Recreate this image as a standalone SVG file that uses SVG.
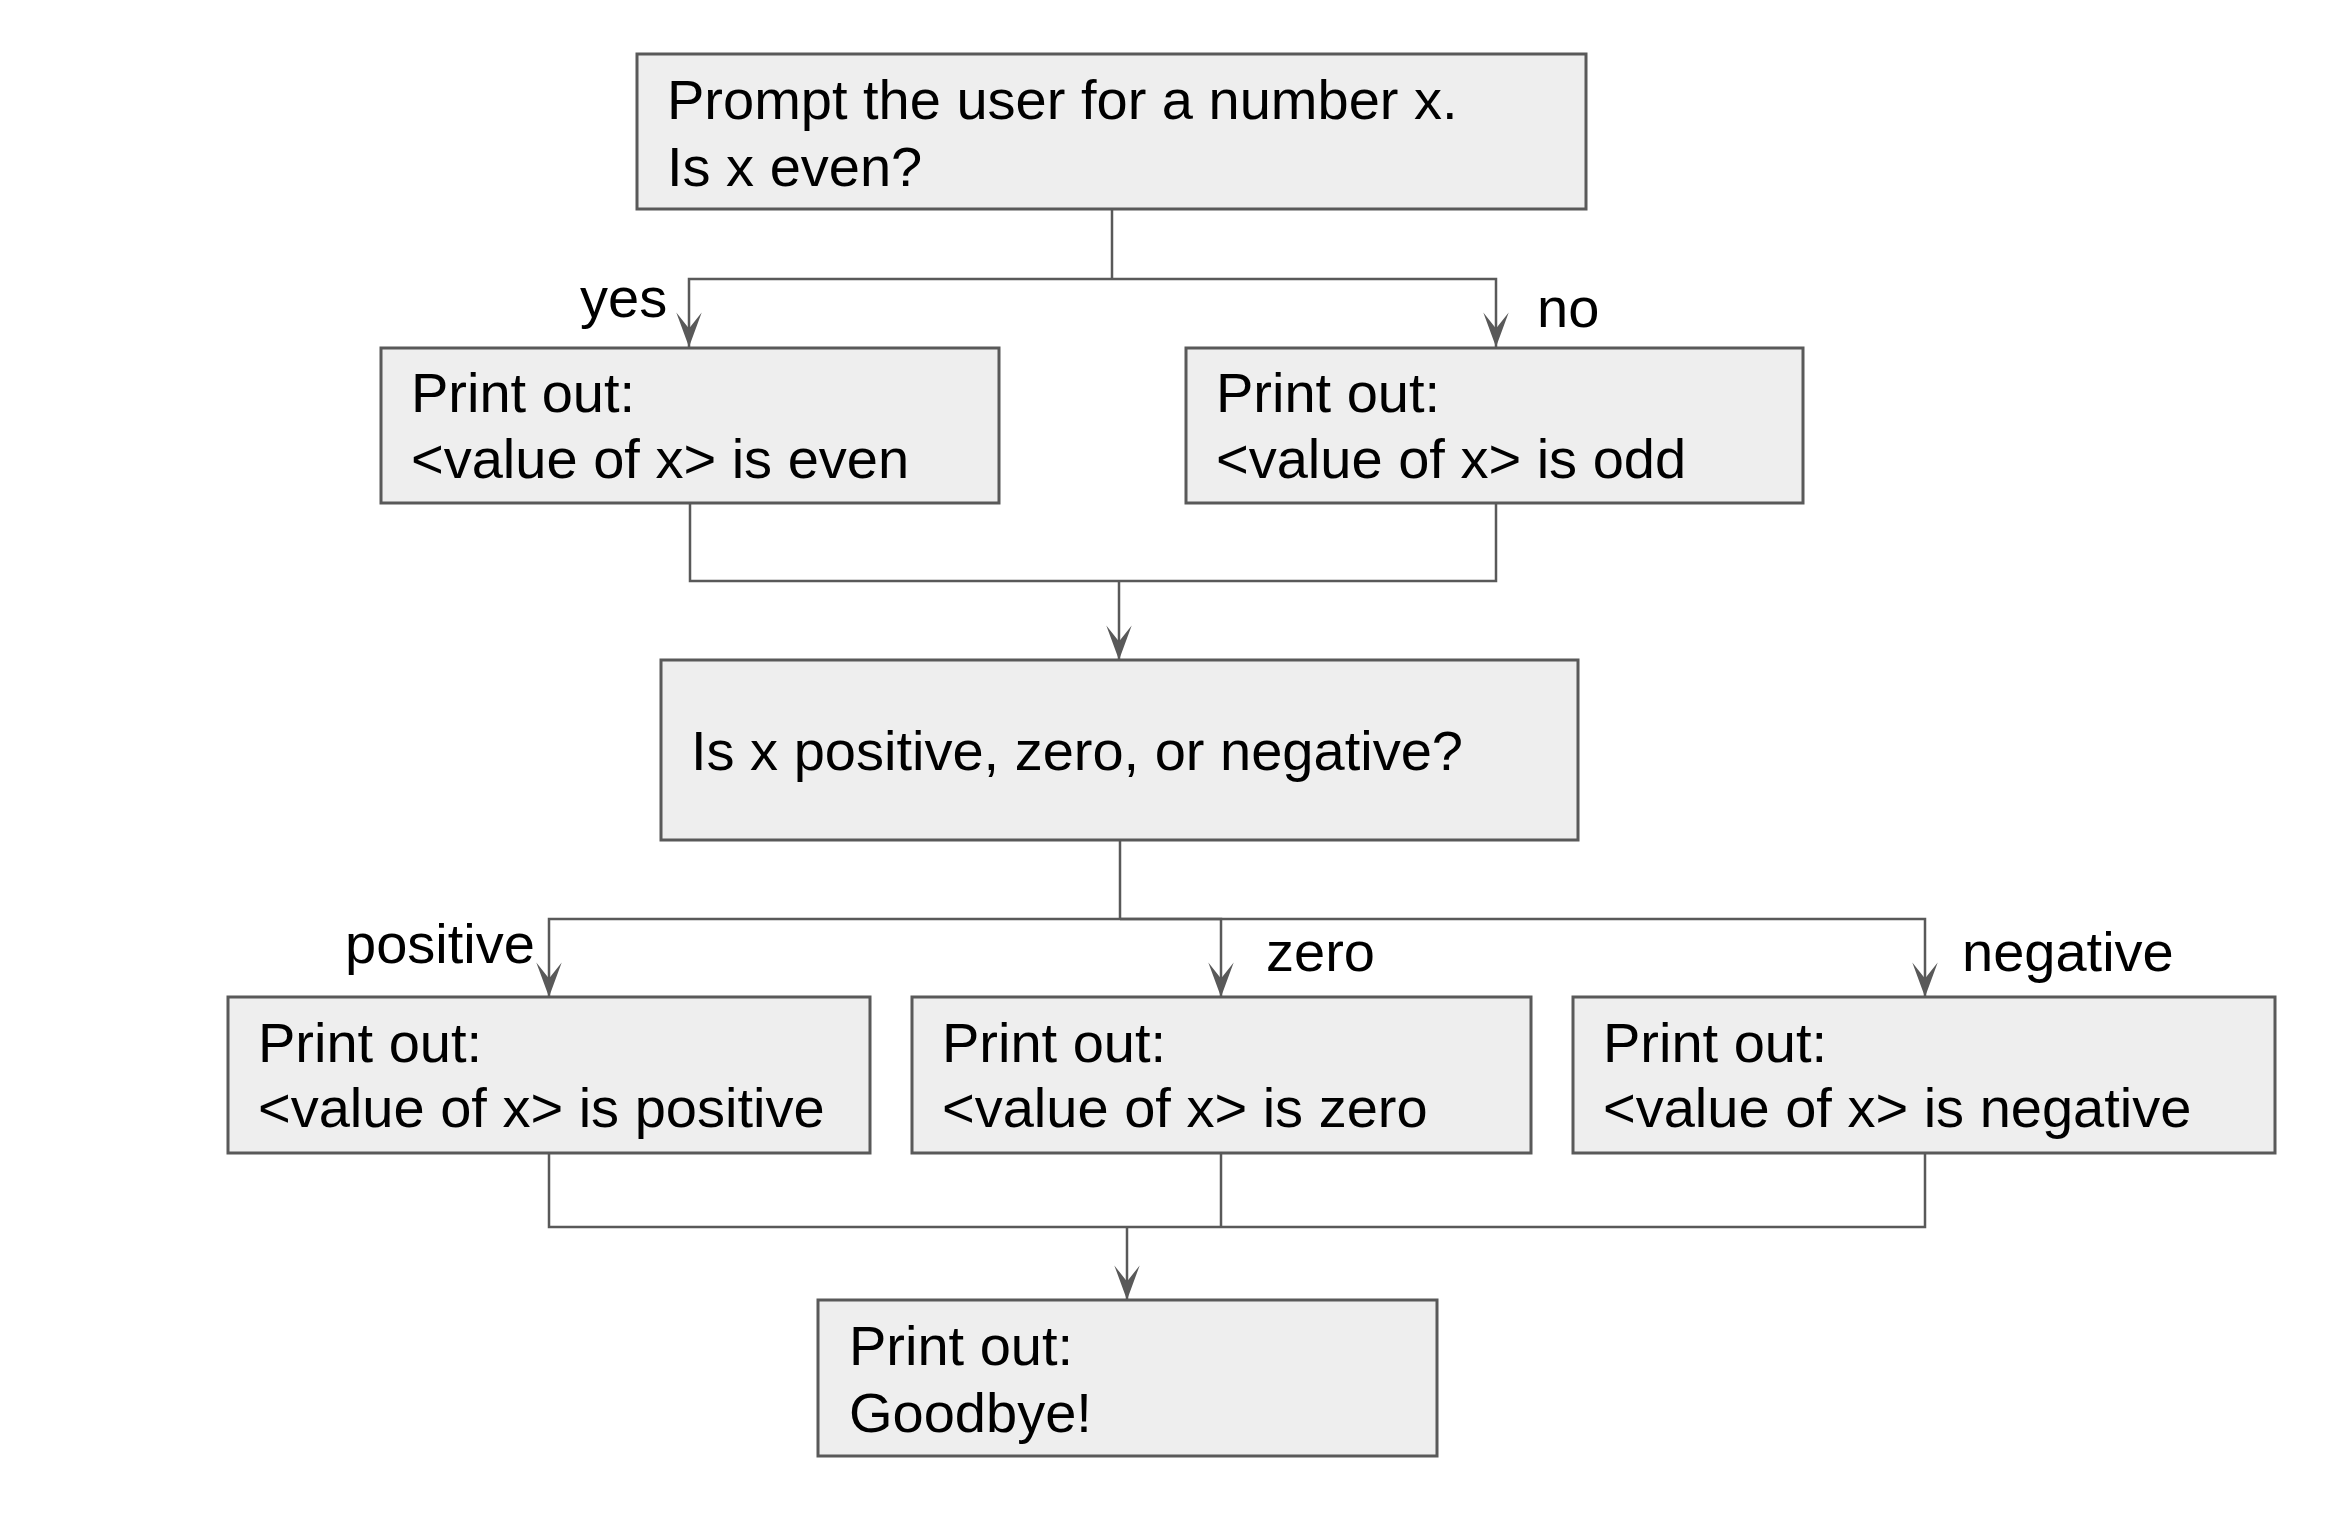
<svg xmlns="http://www.w3.org/2000/svg" width="2351" height="1529" viewBox="0 0 2351 1529">
<style>
.box{fill:#eeeeee;stroke:#595959;stroke-width:3}
.t{font-family:"Liberation Sans",Arial,sans-serif;font-size:56px;fill:#000}
.c{fill:none;stroke:#595959;stroke-width:2.5}
</style>
<defs>
<marker id="ah" markerUnits="userSpaceOnUse" markerWidth="40" markerHeight="30" viewBox="-32 -13 34 26" refX="0" refY="0" orient="auto">
<path d="M0,0 L-30,-11 L-16,0 L-30,11 Z" fill="#595959"/>
</marker>
</defs>
<rect width="2351" height="1529" fill="#fff"/>
<g id="connectors">
<path class="c" d="M1112,209 V279"/>
<path class="c" d="M1112,279 H689 V347" marker-end="url(#ah)"/>
<path class="c" d="M1112,279 H1496 V347" marker-end="url(#ah)"/>
<path class="c" d="M690,503 V581 H1496 V503"/>
<path class="c" d="M1119,581 V660" marker-end="url(#ah)"/>
<path class="c" d="M1120,840 V919"/>
<path class="c" d="M1120,919 H549 V997" marker-end="url(#ah)"/>
<path class="c" d="M1120,919 H1221 V997" marker-end="url(#ah)"/>
<path class="c" d="M1120,919 H1925 V997" marker-end="url(#ah)"/>
<path class="c" d="M549,1153 V1227 H1925 V1153"/>
<path class="c" d="M1221,1153 V1227"/>
<path class="c" d="M1127,1227 V1300" marker-end="url(#ah)"/>
<text class="t" x="580" y="317">yes</text>
<text class="t" x="1537" y="327">no</text>
<text class="t" x="345" y="963">positive</text>
<text class="t" x="1266" y="971">zero</text>
<text class="t" x="1962" y="971">negative</text>
</g>
<g id="n_prompt">
<rect class="box" x="637" y="54" width="949" height="155"/>
<text class="t" x="667" y="119">Prompt the user for a number x.</text>
<text class="t" x="667" y="186">Is x even?</text>
</g>
<g id="n_even">
<rect class="box" x="381" y="348" width="618" height="155"/>
<text class="t" x="411" y="412">Print out:</text>
<text class="t" x="411" y="478">&lt;value of x&gt; is even</text>
</g>
<g id="n_odd">
<rect class="box" x="1186" y="348" width="617" height="155"/>
<text class="t" x="1216" y="412">Print out:</text>
<text class="t" x="1216" y="478">&lt;value of x&gt; is odd</text>
</g>
<g id="n_sign">
<rect class="box" x="661" y="660" width="917" height="180"/>
<text class="t" x="691" y="770">Is x positive, zero, or negative?</text>
</g>
<g id="n_positive">
<rect class="box" x="228" y="997" width="642" height="156"/>
<text class="t" x="258" y="1062">Print out:</text>
<text class="t" x="258" y="1127">&lt;value of x&gt; is positive</text>
</g>
<g id="n_zero">
<rect class="box" x="912" y="997" width="619" height="156"/>
<text class="t" x="942" y="1062">Print out:</text>
<text class="t" x="942" y="1127">&lt;value of x&gt; is zero</text>
</g>
<g id="n_negative">
<rect class="box" x="1573" y="997" width="702" height="156"/>
<text class="t" x="1603" y="1062">Print out:</text>
<text class="t" x="1603" y="1127">&lt;value of x&gt; is negative</text>
</g>
<g id="n_goodbye">
<rect class="box" x="818" y="1300" width="619" height="156"/>
<text class="t" x="849" y="1365">Print out:</text>
<text class="t" x="849" y="1432">Goodbye!</text>
</g>
</svg>
